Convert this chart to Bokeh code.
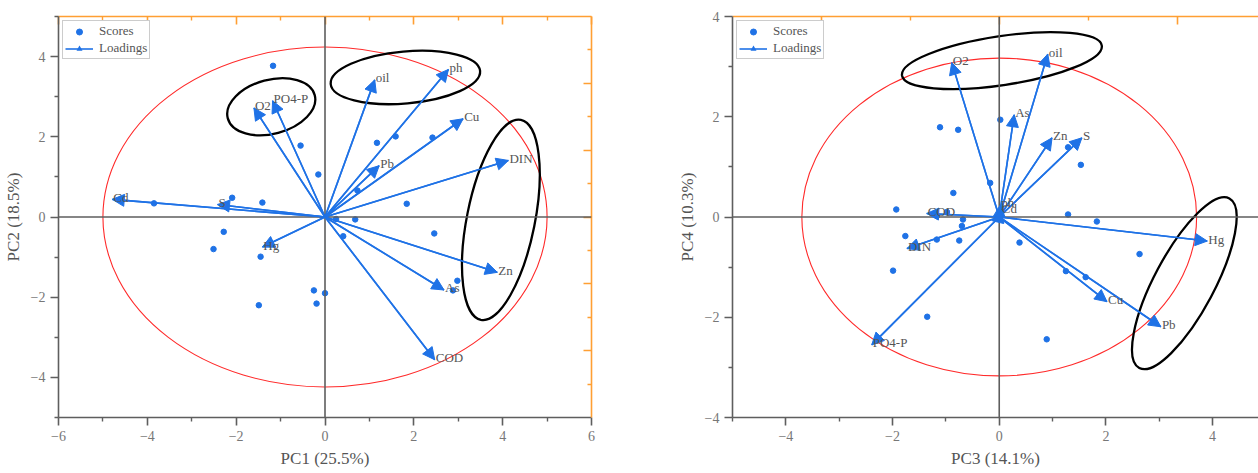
import numpy as np
from bokeh.plotting import figure
from bokeh.models import (Range1d, LinearAxis, FixedTicker, Arrow, NormalHead, Span,
                          Legend, LegendItem, ColumnDataSource)
from bokeh.layouts import row
from bokeh.embed import file_html
from bokeh.resources import INLINE
from bokeh.core.properties import value

# ---------------- data: PC1 vs PC2 ----------------
scores12_x = [-1.17, -0.55, -0.15, -2.09, -1.41, -3.85, -2.28, -2.51, -1.45, -1.49, -0.25, -0.19,
              0.00, 0.41, 2.46, 2.98, 2.88, 1.17, 1.59, 2.42, 1.84, 0.68, 0.25, 0.73]
scores12_y = [3.77, 1.78, 1.06, 0.48, 0.36, 0.34, -0.37, -0.80, -0.99, -2.20, -1.83, -2.16,
              -1.90, -0.48, -0.41, -1.59, -1.83, 1.85, 2.01, 1.98, 0.33, -0.06, -0.05, 0.66]
load12_names = ["Cd", "S", "O2", "PO4-P", "Hg", "oil", "ph", "Cu", "DIN", "Pb", "Zn", "As", "COD"]
load12_x = [-4.79, -2.42, -1.60, -1.18, -1.41, 1.12, 2.78, 3.11, 4.13, 1.22, 3.88, 2.68, 2.47]
load12_y = [0.44, 0.31, 2.72, 2.90, -0.75, 3.42, 3.68, 2.45, 1.41, 1.28, -1.38, -1.82, -3.56]
# group ellipses (centre in data units, axes in px, angle in degrees)
groups12_x = [-1.21, 1.81, 3.96]
groups12_y = [2.75, 3.48, -0.07]
groups12_w = [90, 150, 204]
groups12_h = [54, 52, 68]
groups12_a = [15, 5, 78.7]
conf12_w, conf12_h = 10.0, 8.48

# ---------------- data: PC3 vs PC4 ----------------
scores34_x = [-1.11, -0.77, -0.86, -1.93, -0.98, 0.02, -0.17, 1.29, 1.53, 1.29, 1.83, -0.68,
              -0.70, -1.76, -1.17, -0.75, 0.38, -1.99, -1.35, 2.63, 1.25, 1.62, 0.89, -1.17]
scores34_y = [1.79, 1.74, 0.48, 0.15, 0.10, 1.94, 0.68, 1.39, 1.04, 0.05, -0.09, -0.05,
              -0.18, -0.38, -0.45, -0.47, -0.51, -1.07, -1.99, -0.74, -1.08, -1.20, -2.44, 0.02]
load34_names = ["O2", "oil", "As", "Zn", "S", "Hg", "Cu", "Pb", "COD", "DIN", "PO4-P", "ph", "Cd"]
load34_x = [-0.89, 0.91, 0.28, 0.99, 1.55, 3.90, 2.02, 3.03, -1.36, -1.73, -2.39, 0.02, 0.03]
load34_y = [3.08, 3.25, 2.04, 1.58, 1.58, -0.48, -1.69, -2.19, 0.07, -0.63, -2.55, 0.24, 0.13]
groups34_x = [0.05, 3.47]
groups34_y = [3.12, -1.32]
groups34_w = [202, 192]
groups34_h = [49, 60]
groups34_a = [8.5, 62]
conf34_w, conf34_h = 7.4, 6.34

BLUE = "#1f72e6"
ORANGE = "#ff9f33"
GREY = "#5e5e5e"
SERIF = "Liberation Serif"
H = 471


def style_main(ax, label, ticks, minor):
    ax.ticker = FixedTicker(ticks=ticks, minor_ticks=minor)
    ax.axis_label = label
    ax.axis_line_color = GREY
    ax.axis_line_width = 1.6
    ax.major_tick_line_color = GREY
    ax.major_tick_line_width = 1.6
    ax.minor_tick_line_color = GREY
    ax.minor_tick_line_width = 1.4
    ax.major_tick_out = 8
    ax.major_tick_in = 0
    ax.minor_tick_out = 4
    ax.minor_tick_in = 0
    ax.major_label_text_font = SERIF
    ax.major_label_text_font_size = "14px"
    ax.major_label_text_color = "#777777"
    ax.major_label_standoff = 5
    ax.axis_label_text_font = SERIF
    ax.axis_label_text_font_size = "17px"
    ax.axis_label_text_font_style = "normal"
    ax.axis_label_text_color = "#555555"
    ax.axis_label_standoff = 5


def style_orange(ax, ticks, minor):
    ax.ticker = FixedTicker(ticks=ticks, minor_ticks=minor)
    ax.axis_line_color = ORANGE
    ax.axis_line_width = 1.6
    ax.major_tick_line_color = ORANGE
    ax.major_tick_line_width = 1.6
    ax.minor_tick_line_color = ORANGE
    ax.minor_tick_line_width = 1.4
    ax.major_tick_in = 8
    ax.major_tick_out = 0
    ax.minor_tick_in = 4
    ax.minor_tick_out = 0
    ax.major_label_overrides = {t: "" for t in ticks}
    ax.major_label_standoff = 0


def panel(width, left_border, right_border, xr, yr, names, lx, ly, sx, sy,
          gx, gy, gw, gh, ga, cw, ch, xlabel, ylabel, xticks, xminor, yticks, yminor):
    p = figure(width=width, height=H, x_range=Range1d(*xr), y_range=Range1d(*yr),
               output_backend="svg", toolbar_location=None,
               min_border_top=16, min_border_left=left_border, min_border_right=right_border,
               min_border_bottom=54)
    p.grid.visible = False
    p.outline_line_color = None
    p.background_fill_color = "white"
    p.border_fill_color = "white"
    style_main(p.xaxis[0], xlabel, xticks, xminor)
    style_main(p.yaxis[0], ylabel, yticks, yminor)

    p.add_layout(Span(location=0, dimension="width", line_color=GREY, line_width=1.6))
    p.add_layout(Span(location=0, dimension="height", line_color=GREY, line_width=1.6))

    # confidence ellipse
    p.ellipse(x=[0], y=[0], width=[cw], height=[ch], fill_color=None,
              line_color="#ff2a2a", line_width=1.1)

    # scores
    sc = p.scatter(sx, sy, size=5.5, color=BLUE)

    # loadings: shafts (segments) + heads (arrow annotations)
    src = ColumnDataSource(dict(x0=[0] * len(lx), y0=[0] * len(ly), x=lx, y=ly, name=names))
    seg = p.segment(x0="x0", y0="y0", x1="x", y1="y", source=src,
                    line_color=BLUE, line_width=1.6)
    p.add_layout(Arrow(end=NormalHead(size=12, fill_color=BLUE, line_color=BLUE, line_width=1),
                       x_start="x0", y_start="y0", x_end="x", y_end="y", source=src,
                       line_color=BLUE, line_width=1.6))
    # legend-only proxy for the arrow head (zero size in the plot)
    tri = p.scatter(x="x", y="y", source=src, marker="triangle", size=0,
                    angle=-np.pi / 2, fill_color=BLUE, line_color=None)
    p.text(x="x", y="y", text="name", source=src, text_font=value(SERIF),
           text_font_size="13px", text_color="#555555", text_align="left",
           text_baseline="alphabetic", x_offset=1, y_offset=-2, level="overlay")

    # group ellipses
    p.ellipse(x=gx, y=gy, width=gw, height=gh, angle=ga, angle_units="deg",
              width_units="screen", height_units="screen",
              fill_color=None, line_color="black", line_width=2.3)

    leg = Legend(items=[LegendItem(label="Scores", renderers=[sc]),
                        LegendItem(label="Loadings", renderers=[seg, tri])],
                 location="top_left", margin=4, padding=2, spacing=1,
                 glyph_width=28, glyph_height=15, label_height=14, label_standoff=6,
                 label_text_font=SERIF, label_text_font_size="13px",
                 label_text_color="#555555", border_line_color="#999999",
                 border_line_width=1, background_fill_alpha=1.0)
    p.add_layout(leg)
    return p


p1 = panel(672, 58, 81, (-6, 6), (-5, 5), load12_names, load12_x, load12_y,
           scores12_x, scores12_y,
           groups12_x, groups12_y, groups12_w, groups12_h, groups12_a, conf12_w, conf12_h,
           "PC1 (25.5%)", "PC2 (18.5%)",
           [-6, -4, -2, 0, 2, 4, 6], [-5, -3, -1, 1, 3, 5],
           [-4, -2, 0, 2, 4], [-5, -3, -1, 1, 3, 5])
p1.extra_y_ranges = {"r": Range1d(-6, 6)}
top1 = LinearAxis()
style_orange(top1, [-6, -4, -2, 0, 2, 4, 6], [-5, -3, -1, 1, 3, 5])
p1.add_layout(top1, "above")
right1 = LinearAxis(y_range_name="r")
style_orange(right1, [-4, -2, 0, 2, 4], [-5, -3, -1, 1, 3, 5])
p1.add_layout(right1, "right")

x_end2 = 4.86
p2 = panel(586, 60, 0, (-5, x_end2), (-4, 4), load34_names, load34_x, load34_y,
           scores34_x, scores34_y,
           groups34_x, groups34_y, groups34_w, groups34_h, groups34_a, conf34_w, conf34_h,
           "PC3 (14.1%)", "PC4 (10.3%)",
           [-4, -2, 0, 2, 4], [-5, -3, -1, 1, 3, 5],
           [-4, -2, 0, 2, 4], [-3, -1, 1, 3])
p2.extra_x_ranges = {"t": Range1d(-3, 0.6 * x_end2)}
top2 = LinearAxis(x_range_name="t")
style_orange(top2, [-2, 0, 2], [-1, 1])
p2.add_layout(top2, "above")

layout = row(p1, p2)
open("out.html", "w").write(file_html(layout, INLINE))
